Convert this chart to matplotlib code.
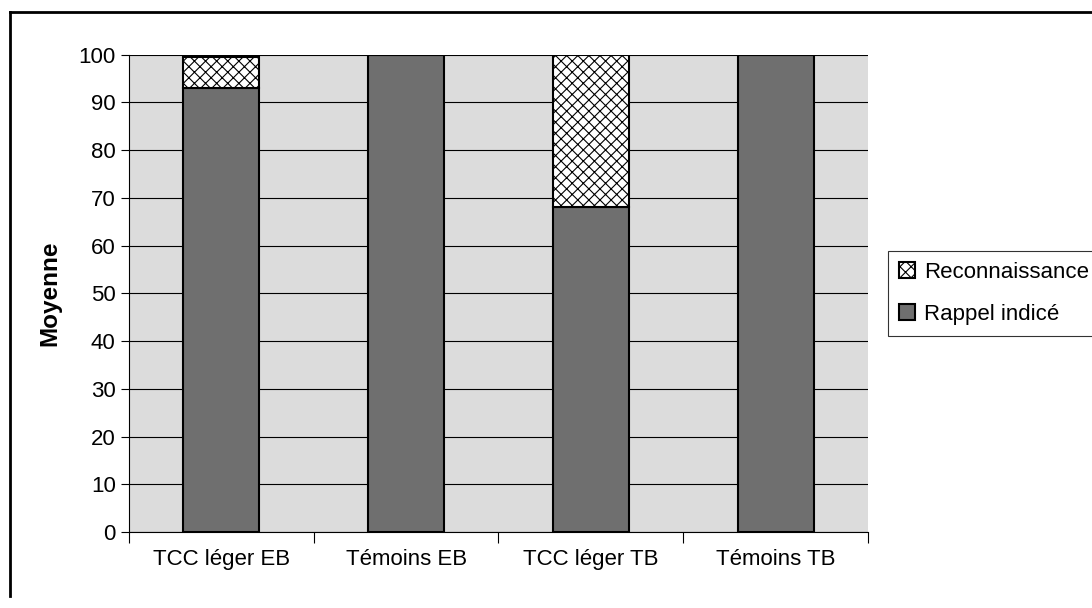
import matplotlib
matplotlib.use('Agg')
import matplotlib.pyplot as plt
import numpy as np
from matplotlib.lines import Line2D

plt.rcParams['font.family'] = ['Liberation Sans', 'DejaVu Sans']
plt.rcParams['hatch.linewidth'] = 0.8

groupes = ['TCC léger EB', 'Témoins EB', 'TCC léger TB', 'Témoins TB']
rappel = [93, 100, 68, 100]
reconnaissance = [6.5, 0, 32, 0]

fig = plt.figure(figsize=(10.92, 6.08), dpi=100)
ax = fig.add_axes([0.118, 0.125, 0.677, 0.785])
ax.set_facecolor('#dcdcdc')

x = np.arange(len(groupes))
b1 = ax.bar(x, rappel, width=0.41, color='#6f6f6f', edgecolor='black', linewidth=1.5,
            label='Rappel indicé', zorder=3)
b2 = ax.bar(x, reconnaissance, width=0.41, bottom=rappel, color='white', edgecolor='black',
            hatch='xxx', linewidth=1.5, label='Reconnaissance', zorder=3)

ax.set_xlim(-0.5, 3.5)
ax.set_ylim(0, 100)
ax.set_yticks(np.arange(0, 101, 10))
ax.yaxis.grid(True, color='black', linewidth=0.8, zorder=1)
ax.set_axisbelow(True)
ax.set_xticks(x)
ax.set_xticklabels(groupes, fontsize=16)
ax.set_xticks(np.arange(-0.5, 4, 1), minor=True)
ax.tick_params(axis='x', which='major', length=0, pad=12)
ax.tick_params(axis='x', which='minor', length=8, width=0.8, direction='out')
ax.tick_params(axis='y', labelsize=16, length=6, width=0.8, direction='out')
for s in ['top', 'right']:
    ax.spines[s].set_visible(False)
ax.spines['left'].set_linewidth(0.8)
ax.spines['bottom'].set_linewidth(0.8)
ax.set_ylabel('Moyenne', fontsize=17.5, fontweight='bold', labelpad=12)

leg = ax.legend(handles=[b2, b1], loc='center left', bbox_to_anchor=(1.027, 0.5),
                fontsize=16, frameon=True, fancybox=False, edgecolor='black',
                handlelength=0.7, handleheight=0.7, handletextpad=0.4,
                borderaxespad=0, labelspacing=0.95, borderpad=0.5)
leg.get_frame().set_linewidth(0.8)

# cadre du graphique (haut et gauche)
fig.add_artist(Line2D([0.009, 1.0], [0.980, 0.980], color='black', linewidth=2))
fig.add_artist(Line2D([0.009, 0.009], [0.02, 0.980], color='black', linewidth=2))

fig.savefig('out.png', dpi=100)
